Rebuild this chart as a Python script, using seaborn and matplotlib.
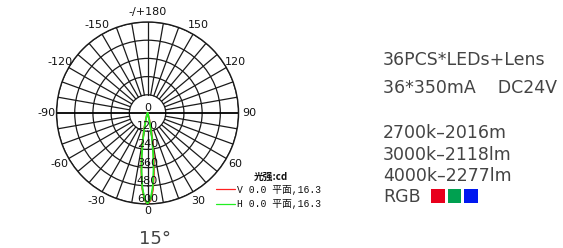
import numpy as np
import pandas as pd
import matplotlib
matplotlib.use("Agg")
import matplotlib.pyplot as plt
import matplotlib.patches as mpatches
from matplotlib.lines import Line2D
import seaborn as sns

# ---- data ----
angles_deg = [-30, -25, -20, -16, -12, -10, -8, -6, -4, -2, 0, 2, 4, 6, 8, 10, 12, 16, 20, 25, 30]
v_plane_cd = [0, 2, 9, 33, 110, 182, 280, 392, 500, 572, 600, 576, 508, 405, 296, 196, 120, 38, 11, 2, 0]
h_plane_cd = [0, 1, 7, 28, 100, 170, 268, 382, 492, 568, 598, 568, 490, 378, 265, 168, 98, 27, 7, 1, 0]
series_labels = ["V 0.0 平面,16.3", "H 0.0 平面,16.3"]
series_colors = ["#ff2020", "#22ee22"]
r_ticks = [120, 240, 360, 480, 600]
r_tick_labels = ["120", "240", "360", "480", "600"]
angle_ticks = [0, 30, 60, 90, 120, 150, 180, -150, -120, -90, -60, -30]
angle_tick_labels = ["0", "30", "60", "90", "120", "150", "-/+180", "-150", "-120", "-90", "-60", "-30"]
legend_title = "光强:cd"
spec_lines = ["36PCS*LEDs+Lens", "36*350mA    DC24V"]
flux_lines = ["2700k–2016m", "3000k–2118lm", "4000k–2277lm"]
rgb_colors = ["#e8001c", "#00a050", "#0018f0"]
beam_label = "15°"

sns.set_theme(style="white")
plt.rcParams["font.family"] = ["DejaVu Sans", "Noto Sans CJK SC"]

df = pd.DataFrame({
    "theta": np.deg2rad(angles_deg * 2),
    "cd": v_plane_cd + h_plane_cd,
    "series": [series_labels[0]] * len(angles_deg) + [series_labels[1]] * len(angles_deg),
})

fig = plt.figure(figsize=(5.63, 2.48), dpi=100)
fig.patch.set_facecolor("white")
ax = fig.add_axes([0.1004, 0.1774, 0.3233, 0.7339], projection="polar")
ax.set_facecolor("white")
ax.set_theta_zero_location("S")
ax.set_theta_direction(1)
ax.set_rlim(0, 600)

gridc = "#1a1a1a"
ax.set_rgrids(r_ticks, labels=[""] * len(r_ticks))
ax.yaxis.grid(True, color=gridc, linewidth=0.9)
ax.xaxis.grid(False)
ax.set_xticks([])
ax.spines["polar"].set_color(gridc)
ax.spines["polar"].set_linewidth(1.0)

for a in range(0, 360, 10):
    if a in (90, 270):
        continue
    ax.plot([np.deg2rad(a)] * 2, [r_ticks[0], r_ticks[-1]], color=gridc, lw=0.9, zorder=1)
ax.plot([np.deg2rad(90)] * 2, [0, 600], color="black", lw=1.3, zorder=2)
ax.plot([np.deg2rad(-90)] * 2, [0, 600], color="black", lw=1.3, zorder=2)

sns.lineplot(data=df, x="theta", y="cd", hue="series", palette=series_colors,
             hue_order=series_labels, sort=False, estimator=None, lw=1.3, ax=ax, legend=False, zorder=3)
ax.set_xlabel("")
ax.set_ylabel("")

ax.text(0, 0, "0", ha="center", va="bottom", fontsize=8, color="#111111", zorder=5)
for r, lab in zip(r_ticks, r_tick_labels):
    ax.text(0, r, lab, ha="center", va="bottom", fontsize=8, color="#111111", zorder=5)

for a, lab in zip(angle_ticks, angle_tick_labels):
    rr = 645 if a == 0 else 668
    ax.text(np.deg2rad(a), rr, lab, ha="center", va="center", fontsize=8, color="#111111",
            clip_on=False)

# legend
hl = [Line2D([], [], color=c, lw=0.9) for c in series_colors]
leg = fig.legend(hl, series_labels, loc="upper left", bbox_to_anchor=(0.373, 1 - 179 / 248),
                 frameon=False, handlelength=2.0, handletextpad=0.2,
                 labelspacing=0.45, borderpad=0.1,
                 prop={"family": ["Liberation Mono", "Noto Sans CJK SC"], "size": 7})
for t in leg.get_texts():
    t.set_color("#111111")
fig.text(271 / 563, 1 - 177 / 248, legend_title, fontsize=7, fontweight="bold",
         family=["Noto Sans CJK SC", "Liberation Mono"], ha="center", va="center", color="#111111")

# right-hand text
txtc = "#444444"
fs = 12.5
kw = dict(fontsize=fs, color=txtc, va="center", ha="left")
fig.text(0.680, 1 - 60 / 248, spec_lines[0], **kw)
fig.text(0.680, 1 - 88 / 248, spec_lines[1], **kw)
for i, s in enumerate(flux_lines):
    fig.text(0.680, 1 - (133 + 21.5 * i) / 248, s, **kw)
fig.text(0.680, 1 - 197 / 248, "RGB", **kw)
for i, c in enumerate(rgb_colors):
    fig.patches.append(mpatches.Rectangle(
        ((431 + 16.5 * i) / 563, 1 - 203 / 248), 14 / 563, 14 / 248,
        transform=fig.transFigure, facecolor=c, edgecolor="none"))

fig.text(155 / 563, 1 - 239 / 248, beam_label, fontsize=13, color="#444444", ha="center",
         va="center")

fig.savefig("out.png", dpi=100, facecolor="white")
